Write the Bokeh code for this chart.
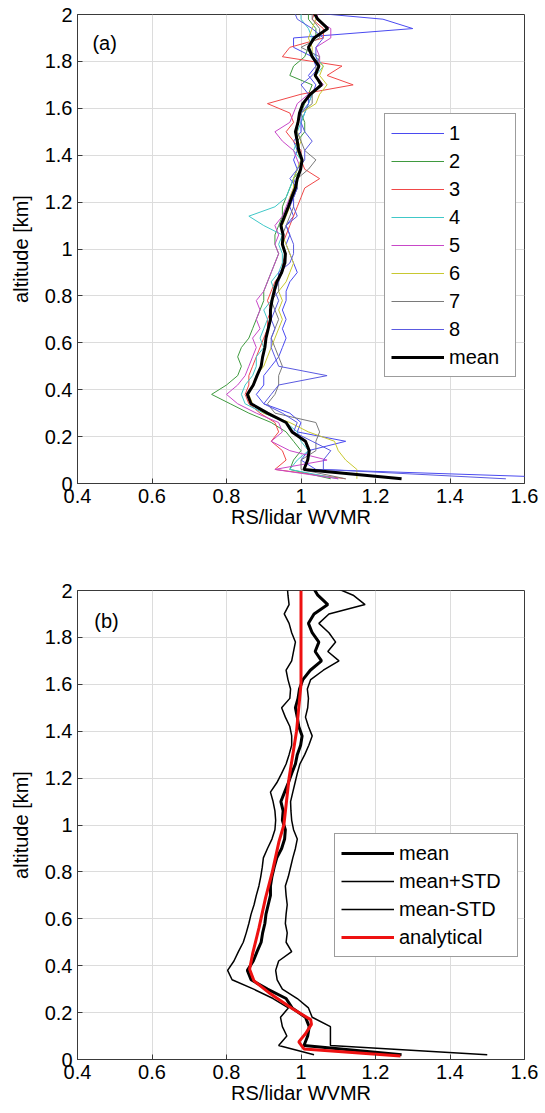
from bokeh.plotting import figure
from bokeh.models import Range1d, FixedTicker, Legend, LegendItem, Label
from bokeh.layouts import column
from bokeh.embed import file_html
from bokeh.resources import INLINE

# ---------------- data ----------------
altitude = [0.02, 0.06, 0.10, 0.14, 0.18, 0.22, 0.26, 0.30, 0.34, 0.38,
            0.42, 0.46, 0.50, 0.54, 0.58, 0.62, 0.66, 0.70, 0.74, 0.78,
            0.82, 0.86, 0.90, 0.94, 0.98, 1.02, 1.06, 1.10, 1.14, 1.18,
            1.22, 1.26, 1.30, 1.34, 1.38, 1.42, 1.46, 1.50, 1.54, 1.58,
            1.62, 1.66, 1.70, 1.74, 1.78, 1.82, 1.86, 1.90, 1.94, 1.98,
            2.02]

series_1 = [1.8, 1.04, 1.0, 1.02, 1.12, 0.99, 1.0, 0.97, 0.9, 0.88,
            0.9, 0.9, 0.92, 0.94, 0.95, 0.96, 0.95, 0.96, 0.95, 0.96,
            0.96, 0.97, 0.99, 0.98, 0.97, 0.96, 0.97, 0.96, 0.98, 0.97,
            0.98, 0.99, 0.98, 0.99, 0.98, 0.99, 0.98, 1.0, 1.0, 1.01,
            1.02, 1.03, 1.04, 1.02, 1.04, 1.03, 0.98, 0.98, 1.30, 1.22,
            0.94]
series_2 = [1.08, 0.97, 0.98, 1.0, 0.98, 0.96, 0.92, 0.86, 0.81, 0.76,
            0.8, 0.83, 0.84, 0.83, 0.84, 0.86, 0.87, 0.88, 0.89, 0.9,
            0.9, 0.91, 0.92, 0.93, 0.94, 0.93, 0.93, 0.94, 0.95, 0.95,
            0.96, 0.97, 0.98, 1.0, 1.0, 0.99, 0.99, 1.01, 1.01, 1.0,
            1.01, 1.02, 1.03, 0.97, 0.98, 1.01, 1.02, 1.04, 1.04, 1.02,
            1.02]
series_3 = [1.12, 0.93, 0.96, 0.95, 0.92, 0.94, 0.93, 0.89, 0.86, 0.85,
            0.86, 0.86, 0.87, 0.88, 0.89, 0.9, 0.91, 0.91, 0.92, 0.91,
            0.92, 0.93, 0.95, 0.95, 0.96, 0.95, 0.96, 0.97, 0.98, 0.99,
            1.0, 1.01, 1.05, 1.01, 1.0, 1.0, 0.98, 0.96, 0.98, 0.97,
            0.91, 1.0, 1.14, 1.07, 1.11, 0.95, 0.97, 1.06, 1.06, 1.03,
            1.04]
series_4 = [1.1, 0.97, 0.99, 1.02, 1.0, 0.99, 0.96, 0.9, 0.85, 0.84,
            0.85, 0.87, 0.88, 0.88, 0.9, 0.89, 0.9, 0.91, 0.9, 0.92,
            0.93, 0.92, 0.94, 0.95, 0.95, 0.94, 0.95, 0.9, 0.86, 0.93,
            0.96, 0.97, 0.98, 0.99, 1.0, 0.98, 0.99, 0.99, 1.0, 1.01,
            1.02, 1.03, 1.05, 1.04, 1.06, 1.04, 1.02, 1.03, 1.02, 1.0,
            1.0]
series_5 = [1.1, 0.93, 1.07, 0.97, 0.92, 0.95, 0.94, 0.88, 0.83, 0.8,
            0.83, 0.85, 0.86, 0.87, 0.88, 0.87, 0.89, 0.88, 0.89, 0.88,
            0.9, 0.91, 0.92, 0.93, 0.94, 0.93, 0.94, 0.93, 0.95, 0.96,
            0.97, 0.98, 0.99, 1.0, 0.99, 0.98, 0.95, 0.93, 0.97, 0.98,
            0.99, 1.02, 1.06, 1.04, 1.05, 1.05, 1.04, 1.08, 1.08, 1.04,
            1.05]
series_6 = [1.15, 1.15, 1.12, 1.1, 1.09, 1.02, 0.97, 0.9, 0.87, 0.86,
            0.87, 0.88, 0.9, 0.91, 0.92, 0.93, 0.94, 0.95, 0.94, 0.95,
            0.94, 0.96, 0.97, 0.98, 0.97, 0.96, 0.95, 0.95, 0.96, 0.97,
            0.97, 0.98, 0.98, 0.99, 1.0, 0.99, 1.0, 0.99, 0.99, 1.0,
            1.04, 1.05, 1.07, 1.05, 1.06, 1.03, 1.03, 1.02, 1.03, 1.04,
            1.04]
series_7 = [1.12, 1.0, 1.0, 1.04, 1.04, 1.05, 1.04, 0.93, 0.91, 0.93,
            0.94, 0.94, 0.95, 0.94, 0.93, 0.92, 0.93, 0.94, 0.93, 0.92,
            0.94, 0.94, 0.95, 0.96, 0.96, 0.95, 0.95, 0.96, 0.97, 0.98,
            0.98, 0.99, 0.99, 1.02, 1.04, 1.01, 1.0, 0.99, 0.99, 1.0,
            1.03, 1.03, 1.05, 1.04, 1.04, 1.05, 1.0, 1.05, 1.05, 1.03,
            1.03]
series_8 = [1.55, 1.06, 1.06, 1.08, 1.03, 0.98, 0.99, 0.95, 0.9, 0.92,
            0.94, 1.07, 0.94, 0.93, 0.92, 0.92, 0.93, 0.92, 0.93, 0.94,
            0.93, 0.94, 0.94, 0.97, 0.98, 0.98, 0.97, 0.96, 0.99, 0.98,
            0.98, 0.99, 0.97, 0.99, 1.01, 1.01, 1.03, 1.01, 1.0, 1.0,
            1.02, 1.02, 1.0, 1.03, 1.05, 1.04, 1.04, 1.06, 1.03, 0.99,
            0.98]

mean = [1.27, 1.008, 1.018, 1.022, 1.012, 0.976, 0.96, 0.91, 0.866, 0.856,
        0.872, 0.882, 0.893, 0.897, 0.903, 0.906, 0.912, 0.918, 0.918, 0.922,
        0.928, 0.935, 0.948, 0.956, 0.958, 0.95, 0.952, 0.946, 0.956, 0.966,
        0.975, 0.985, 0.99, 0.999, 1.003, 0.994, 0.99, 0.985, 0.992, 0.996,
        1.005, 1.025, 1.055, 1.038, 1.048, 1.03, 1.02, 1.035, 1.072, 1.045,
        1.03]
mean_plus_std = [1.50, 1.079, 1.079, 1.079, 1.03, 1.02, 0.99, 0.95, 0.936, 0.932,
                 0.94, 0.975, 0.96, 0.963, 0.958, 0.96, 0.963, 0.96, 0.958, 0.966,
                 0.972, 0.978, 0.985, 0.99, 0.98, 0.975, 0.973, 0.972, 0.978, 0.984,
                 0.99, 0.997, 1.01, 1.021, 1.03, 1.02, 1.012, 1.018, 1.02, 1.017,
                 1.026, 1.06, 1.102, 1.072, 1.093, 1.075, 1.048, 1.075, 1.172, 1.14,
                 1.08]
mean_minus_std = [1.035, 0.94, 0.962, 0.95, 0.945, 0.966, 0.925, 0.873, 0.815, 0.803,
                  0.82, 0.832, 0.845, 0.853, 0.86, 0.866, 0.874, 0.88, 0.887, 0.892,
                  0.896, 0.899, 0.91, 0.922, 0.93, 0.932, 0.93, 0.925, 0.918, 0.935,
                  0.948, 0.96, 0.968, 0.975, 0.975, 0.97, 0.958, 0.948, 0.97, 0.972,
                  0.965, 0.96, 0.975, 0.98, 0.985, 0.975, 0.968, 0.955, 0.968, 0.965,
                  0.963]

analytical_altitude = [0.015, 0.045, 0.075, 0.11, 0.15, 0.17, 0.22, 0.28, 0.335, 0.385,
                       0.45, 0.56, 0.69, 0.80, 0.93, 1.0, 1.2, 1.4, 1.6, 2.0]
analytical = [1.267, 1.008, 0.994, 1.012, 1.028, 1.026, 0.974, 0.918, 0.874, 0.862,
              0.87, 0.887, 0.905, 0.923, 0.941, 0.954, 0.968, 0.988, 1.0, 1.0]

series_names = ["1", "2", "3", "4", "5", "6", "7", "8"]
series_colors = ["#4a4af0", "#3f9a3f", "#f04848", "#40c8c8",
                 "#c848c8", "#c8c830", "#7a7a7a", "#5a5ae0"]

x_ticks = [0.4, 0.6, 0.8, 1.0, 1.2, 1.4, 1.6]
x_tick_labels = ["0.4", "0.6", "0.8", "1", "1.2", "1.4", "1.6"]
y_ticks = [0.0, 0.2, 0.4, 0.6, 0.8, 1.0, 1.2, 1.4, 1.6, 1.8, 2.0]
y_tick_labels = ["0", "0.2", "0.4", "0.6", "0.8", "1", "1.2", "1.4", "1.6", "1.8", "2"]

FONT = "Liberation Sans"
FS = "20px"


def make_fig(height, top, bottom):
    p = figure(width=540, height=height, output_backend="svg", toolbar_location=None,
               x_range=Range1d(0.4, 1.6), y_range=Range1d(0, 2),
               min_border_left=77, min_border_right=16,
               min_border_top=top, min_border_bottom=bottom)
    p.background_fill_color = "white"
    p.border_fill_color = "white"
    p.outline_line_color = "#3a3a3a"
    p.outline_line_width = 1
    p.xaxis.ticker = FixedTicker(ticks=x_ticks)
    p.yaxis.ticker = FixedTicker(ticks=y_ticks)
    p.xaxis.major_label_overrides = dict(zip(x_ticks, x_tick_labels))
    p.yaxis.major_label_overrides = dict(zip(y_ticks, y_tick_labels))
    for ax in (p.xaxis, p.yaxis):
        ax.major_tick_in = 5
        ax.major_tick_out = 0
        ax.minor_tick_line_color = None
        ax.axis_line_color = "#3a3a3a"
        ax.major_tick_line_color = "#3a3a3a"
        ax.major_label_text_font = FONT
        ax.major_label_text_font_size = FS
        ax.major_label_text_color = "black"
        ax.axis_label_text_font = FONT
        ax.axis_label_text_font_size = FS
        ax.axis_label_text_font_style = "normal"
        ax.axis_label_text_color = "black"
    p.xaxis.major_label_standoff = 5
    p.xaxis.axis_label_standoff = 0
    p.yaxis.major_label_standoff = 5
    p.yaxis.axis_label_standoff = 10
    p.xaxis.axis_label = "RS/lidar WVMR"
    p.yaxis.axis_label = "altitude [km]"
    p.grid.grid_line_color = "#dcdcdc"
    p.grid.grid_line_width = 1
    return p


def style_legend(leg, label_width):
    leg.label_text_font = FONT
    leg.label_text_font_size = FS
    leg.label_text_color = "black"
    leg.glyph_width = 53
    leg.glyph_height = 20
    leg.label_height = 26
    leg.label_width = label_width
    leg.label_standoff = 5
    leg.spacing = 2
    leg.padding = 6
    leg.margin = 0
    leg.border_line_color = "#3a3a3a"
    leg.border_line_width = 1
    leg.background_fill_color = "white"
    leg.background_fill_alpha = 1.0


# ---------------- panel (a) ----------------
pa = make_fig(543, 14, 60)
series_all = [series_1, series_2, series_3, series_4, series_5, series_6, series_7, series_8]
items_a = []
for name, col, vals in zip(series_names, series_colors, series_all):
    r = pa.line(vals, altitude, line_color=col, line_width=1)
    items_a.append(LegendItem(label=name, renderers=[r]))
rm = pa.line(mean, altitude, line_color="black", line_width=3)
items_a.append(LegendItem(label="mean", renderers=[rm]))
leg_a = Legend(items=items_a, location=(307, 106))
style_legend(leg_a, 60)
pa.add_layout(leg_a, "center")
pa.add_layout(Label(x=0.44, y=1.88, text="(a)", text_font=FONT, text_font_size=FS,
                    text_baseline="middle", text_color="black"))

# ---------------- panel (b) ----------------
pb = make_fig(568, 47, 52)
r_mean = pb.line(mean, altitude, line_color="black", line_width=3)
r_up = pb.line(mean_plus_std, altitude, line_color="black", line_width=1.5)
r_lo = pb.line(mean_minus_std, altitude, line_color="black", line_width=1.5)
r_an = pb.line(analytical, analytical_altitude, line_color="#ee1111", line_width=3)
leg_b = Legend(items=[LegendItem(label="mean", renderers=[r_mean]),
                      LegendItem(label="mean+STD", renderers=[r_up]),
                      LegendItem(label="mean-STD", renderers=[r_lo]),
                      LegendItem(label="analytical", renderers=[r_an])],
               location=(257, 102))
style_legend(leg_b, 112)
pb.add_layout(leg_b, "center")
pb.add_layout(Label(x=0.445, y=1.87, text="(b)", text_font=FONT, text_font_size=FS,
                    text_baseline="middle", text_color="black"))

layout = column(pa, pb, spacing=0)
open("out.html", "w").write(file_html(layout, INLINE))
